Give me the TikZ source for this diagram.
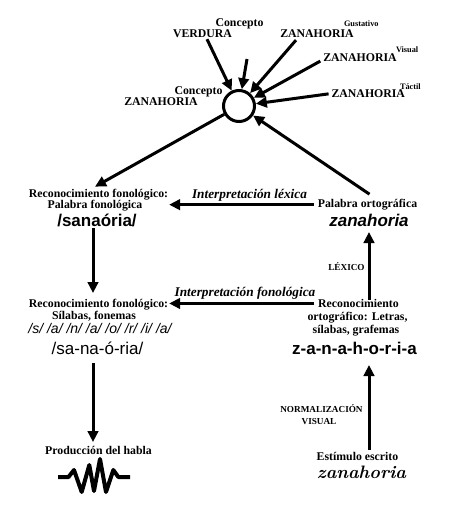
\documentclass[tikz,border=0pt]{standalone}
\usepackage{fontspec}
\newfontfamily\tnr{Liberation Serif}
\newfontfamily\ari{Liberation Sans}
\usetikzlibrary{arrows.meta,calc}
\begin{document}
\begin{tikzpicture}[x=1pt,y=-1pt,
  txt/.style={inner sep=0pt,outer sep=0pt,anchor=base},
  labl/.style={txt,font=\tnr\bfseries\fontsize{11.8}{13}\selectfont},
  capsl/.style={txt,font=\tnr\bfseries\fontsize{11.8}{13}\selectfont},
  supl/.style={txt,anchor=base west,font=\tnr\bfseries\fontsize{8.3}{9}\selectfont},
  smalll/.style={txt,font=\tnr\bfseries\fontsize{9.2}{10}\selectfont},
  interpl/.style={txt,font=\tnr\bfseries\itshape\fontsize{13.3}{15}\selectfont},
  bigl/.style={txt,font=\ari\bfseries\fontsize{17}{19}\selectfont},
  arr/.style={line width=3pt,-{Triangle[length=11pt,width=10.5pt]}},
]
\useasboundingbox (0,0) rectangle (450,509);

% concept circle
\node[circle,draw,line width=3pt,minimum size=31pt,inner sep=0pt] (c) at (239,106) {};
\node[capsl] (cz) at (161,105.7) {ZANAHORIA};
\node[labl] (cc) at (198.5,94) {Concepto};

% top inputs
\node[labl] (tc) at (239.5,26) {Concepto};
\node[capsl] (verd) at (202.5,37) {VERDURA};
\node[capsl] (zg) at (317,37) {ZANAHORIA};
\node[supl] (g) at (344,26.5) {Gustativo};
\node[capsl] (zv) at (360,61) {ZANAHORIA};
\node[supl] (v) at (396,52.5) {Visual};
\node[capsl] (zt) at (368.3,97.7) {ZANAHORIA};
\node[supl] (ta) at (400,89) {Táctil};
\coordinate (s2) at (247,59);

\draw[arr] ($(verd.south)+(4.5,2)$) -- (c);
\draw[arr] (s2) -- (c);
\draw[arr] ($(zg.south)+(-21,3)$) -- (c);
\draw[arr] ($(zv.south west)+(-3,0)$) -- (c);
\draw[arr] ($(zt.west)+(-3,0)$) -- (c);

% upper row
\node[labl] (rf1a) at (98.5,197) {Reconocimiento fonológico:};
\node[labl] (rf1b) at (95,208.5) {Palabra fonológica};
\node[bigl] (sana) at (97,226) {/sanaória/};
\draw[arr] (c) -- ($(rf1a.north)+(-3.5,-2)$);

\node[labl] (po) at (367.5,207.5) {Palabra ortográfica};
\node[bigl,font=\ari\bfseries\itshape\fontsize{17}{19}\selectfont] (zh) at (369,226) {zanahoria};
\draw[arr] ($(po.north)+(2,-5)$) -- (c);
\node[interpl] (il) at (249.5,198) {Interpretación léxica};
\draw[arr] ($(po.west)+(-4,0)$) -- ($(po.west -| rf1a.east)+(1,0)$);

\node[smalll] (lex) at (346.5,270.5) {LÉXICO};

% middle row
\node[labl] (rf2a) at (98.5,307.5) {Reconocimiento fonológico:};
\node[labl] (rf2b) at (94,319.5) {Sílabas, fonemas};
\node[txt,font=\ari\itshape\fontsize{14}{16}\selectfont] (ph) at (100,333) {/s/ /a/ /n/ /a/ /o/ /r/ /i/ /a/};
\node[txt,font=\ari\fontsize{17}{19}\selectfont] (sil) at (97.5,354) {/sa-na-ó-ria/};

\node[interpl] (ifon) at (245,296) {Interpretación fonológica};
\node[labl] (ro1) at (358.5,307.5) {Reconocimiento};
\node[labl] (ro2) at (357.5,320.5) {ortográfico: Letras,};
\node[labl] (ro3) at (356,333.5) {sílabas, grafemas};
\node[bigl] (zia) at (354.5,354) {z-a-n-a-h-o-r-i-a};
\draw[arr] ($(ro1.west)+(-4,0)$) -- ($(ro1.west -| rf2a.east)+(1,0)$);

% bottom
\node[labl] (prod) at (98.5,454) {Producción del habla};
\draw[line width=4pt,line join=round,line cap=butt]
  (58,477) -- (68.5,477) -- (74,470) -- (81.7,492) -- (89.3,465)
  -- (94,491) -- (100,459) -- (106,492) -- (113.3,470)
  -- (118.3,477) -- (130,477);
\node[smalll] (n1) at (321.5,412.5) {NORMALIZACIÓN};
\node[smalll] (n2) at (319,424) {VISUAL};
\node[labl] (est) at (357.5,460) {Estímulo escrito};
\node[txt,font=\bfseries\itshape\fontsize{18}{21}\selectfont] (scr) at (361.5,478) {zanahoria};

% vertical arrows
\coordinate (colL) at (93,0);
\coordinate (colR) at (369,0);
\draw[arr] ($(colL|-sana.base)+(0,2)$) -- ($(colL|-rf2a.base)+(0,-14.5)$);
\draw[arr] ($(colL|-sil.base)+(0,9)$) -- ($(colL|-prod.base)+(0,-12)$);
\draw[arr] ($(colR|-ro1.base)+(0,-7.5)$) -- ($(colR|-zh.base)+(0,6)$);
\draw[arr] ($(colR|-est.base)+(0,-10)$) -- ($(colR|-zia.base)+(0,11)$);
\end{tikzpicture}
\end{document}
